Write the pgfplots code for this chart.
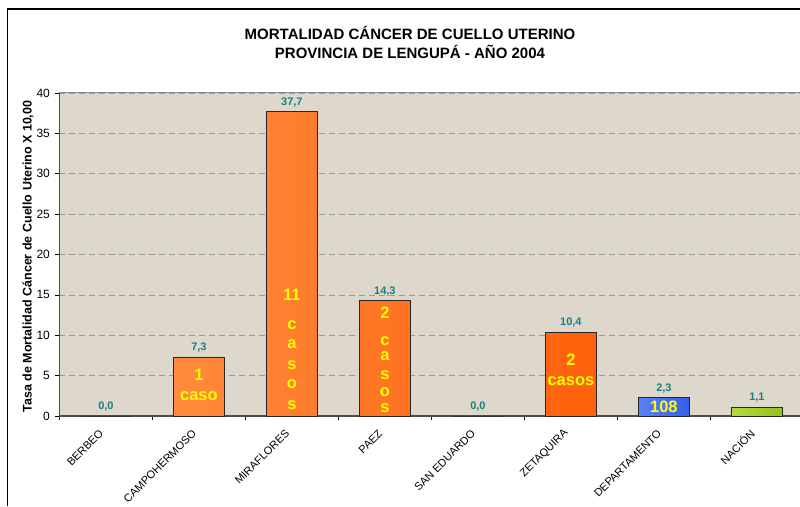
\documentclass[border=0pt]{standalone}
\usepackage{fontspec}
\setmainfont{Liberation Sans}
\usepackage{pgfplots}
\pgfplotsset{compat=1.18}
\definecolor{bg}{RGB}{222,216,204}
\definecolor{orL}{RGB}{255,148,72}
\definecolor{orD}{RGB}{255,96,10}
\definecolor{blL}{RGB}{90,130,255}
\definecolor{blD}{RGB}{50,95,235}
\definecolor{grL}{RGB}{180,218,60}
\definecolor{grD}{RGB}{145,195,25}
\definecolor{teal2}{RGB}{20,128,128}
\definecolor{yel}{RGB}{255,255,0}
\begin{document}
\begin{tikzpicture}
\fill[white] (-59.4pt,-90pt) rectangle (740.6pt,416pt);
\begin{axis}[
  anchor=south west, scale only axis,
  width=744pt, height=323pt,
  xmin=-0.5, xmax=7.5, ymin=0, ymax=40,
  ybar, bar width=51pt,
  axis background/.style={fill=bg},
  axis x line*=bottom, axis y line*=left,
  axis line style={draw=black!70, line width=1.3pt},
  xtick={0,...,7},
  xticklabels={BERBEO,CAMPOHERMOSO,MIRAFLORES,PAEZ,SAN EDUARDO,ZETAQUIRA,DEPARTAMENTO,NACIÓN},
  major x tick style={draw=none},
  minor xtick={-0.5,0.5,1.5,...,6.5},
  minor x tick style={draw=black, line width=0.6pt},
  minor tick length=4pt,
  ytick={0,5,...,40},
  major tick length=4pt,
  y tick style={draw=black, line width=0.6pt},
  tick align=outside,
  ymajorgrids, major grid style={dash pattern=on 6pt off 4pt, draw=gray!80, line width=0.6pt},
  /pgf/number format/assume math mode=true,
  yticklabel style={font=\fontsize{12}{14}\selectfont, xshift=-2pt},
  xticklabel style={font=\fontsize{11}{13}\selectfont, rotate=45, anchor=east, xshift=-8pt, yshift=-5pt},
  nodes near coords={\pgfmathprintnumber[fixed,fixed zerofill,precision=1,use comma,assume math mode=true]{\pgfplotspointmeta}},
  every node near coord/.append style={font=\fontsize{11}{13}\bfseries, text=teal2, anchor=south, yshift=1pt},
  clip=false,
]
\addplot[bar shift=0pt, draw=black!85, line width=0.7pt, left color=orL, right color=orD]
  coordinates {(0,0) (1,7.3) (2,37.7) (3,14.3) (4,0) (5,10.4)};
\addplot[bar shift=0pt, draw=black!85, line width=0.7pt, left color=blL, right color=blD]
  coordinates {(6,2.3)};
\addplot[bar shift=0pt, draw=black!85, line width=0.7pt, left color=grL, right color=grD]
  coordinates {(7,1.1)};
\draw[gray!90, line width=1pt] (axis cs:-0.5,40) -- (axis cs:7.5,40);
\tikzset{inl/.style={font=\fontsize{16.5}{18}\bfseries, text=yel, inner sep=0pt}}
% CAMPOHERMOSO
\node[inl] at (axis cs:1,5.08) {1};
\node[inl] at (axis cs:1,2.48) {caso};
% MIRAFLORES
\node[inl] at (axis cs:2,14.98) {11};
\node[inl] at (axis cs:2,11.27) {c};
\node[inl] at (axis cs:2,8.92) {a};
\node[inl] at (axis cs:2,6.32) {s};
\node[inl] at (axis cs:2,3.96) {o};
\node[inl] at (axis cs:2,1.36) {s};
% PAEZ
\node[inl] at (axis cs:3,12.76) {2};
\node[inl] at (axis cs:3,9.29) {c};
\node[inl] at (axis cs:3,7.38) {a};
\node[inl] at (axis cs:3,5.08) {s};
\node[inl] at (axis cs:3,2.97) {o};
\node[inl] at (axis cs:3,0.99) {s};
% ZETAQUIRA
\node[inl] at (axis cs:5,6.93) {2};
\node[inl] at (axis cs:5,4.33) {casos};
% DEPARTAMENTO
\node[inl] at (axis cs:6,1.11) {108};
\end{axis}
\draw[line width=1.5pt] (-51.9pt,-90pt) -- (-51.9pt,407pt) -- (740.6pt,407pt);
\node[font=\fontsize{15}{17}\bfseries] at (350.6pt,383pt) {MORTALIDAD CÁNCER DE CUELLO UTERINO};
\node[font=\fontsize{15}{17}\bfseries] at (350.6pt,364pt) {PROVINCIA DE LENGUPÁ - AÑO 2004};
\begin{scope}
\clip (-49.4pt,-90pt) rectangle (-14.4pt,315pt);
\node[rotate=90, font=\fontsize{12.5}{14}\bfseries] at (-31.4pt,163pt) {Tasa de Mortalidad Cáncer de Cuello Uterino X 10,000};
\end{scope}
\pgfresetboundingbox
\useasboundingbox (-59.4pt,-90pt) rectangle (740.6pt,416pt);
\end{tikzpicture}
\end{document}
